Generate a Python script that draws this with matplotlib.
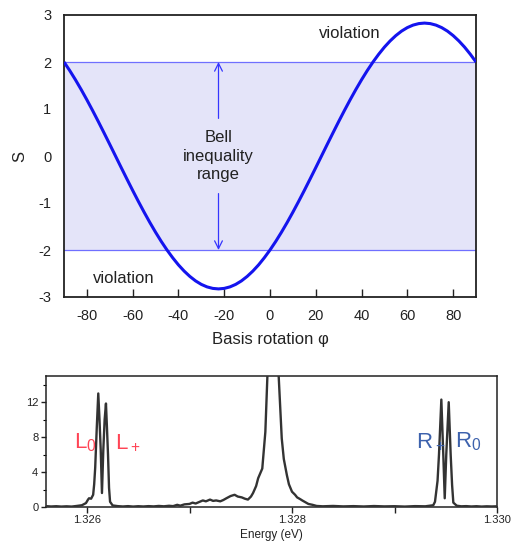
import numpy as np
import matplotlib
matplotlib.use("Agg")
import matplotlib.pyplot as plt

plt.rcParams['font.family'] = ['Liberation Sans', 'DejaVu Sans']
plt.rcParams['mathtext.fontset'] = 'custom'
plt.rcParams['mathtext.rm'] = 'Liberation Sans'
plt.rcParams['axes.unicode_minus'] = False

# ---------------- top panel data ----------------
phi = np.arange(-90, 90.01, 2.5)
S_values = [2.000, 1.818, 1.622, 1.414, 1.195, 0.967, 0.732, 0.491, 0.247, 0.0,
            -0.247, -0.491, -0.732, -0.967, -1.195, -1.414, -1.622, -1.818, -2.000,
            -2.166, -2.317, -2.449, -2.563, -2.658, -2.732, -2.785, -2.817, -2.828,
            -2.817, -2.785, -2.732, -2.658, -2.563, -2.449, -2.317, -2.166, -2.000,
            -1.818, -1.622, -1.414, -1.195, -0.967, -0.732, -0.491, -0.247, 0.0,
            0.247, 0.491, 0.732, 0.967, 1.195, 1.414, 1.622, 1.818, 2.000,
            2.166, 2.317, 2.449, 2.563, 2.658, 2.732, 2.785, 2.817, 2.828,
            2.817, 2.785, 2.732, 2.658, 2.563, 2.449, 2.317, 2.166, 2.000]
bell_bounds = [-2, 2]
top_xticks = [-80, -60, -40, -20, 0, 20, 40, 60, 80]
top_yticks = [-3, -2, -1, 0, 1, 2, 3]

# ---------------- bottom panel data ----------------
energy = [1.32560, 1.32565, 1.32570, 1.32575, 1.32580, 1.32585, 1.32590, 1.32595,
          1.32599, 1.32601, 1.32602, 1.32604, 1.32606, 1.32607, 1.32608, 1.326095,
          1.32611, 1.326122, 1.326134, 1.326146, 1.326159, 1.326172, 1.326185,
          1.326195, 1.326205, 1.326215, 1.326225, 1.32625, 1.32630, 1.32635,
          1.32640, 1.32645, 1.32650, 1.32655, 1.32660, 1.32665, 1.32670, 1.32675,
          1.32680, 1.32684, 1.32688, 1.32691, 1.32695, 1.32700, 1.32703, 1.32706,
          1.32710, 1.32713, 1.32716, 1.32720, 1.32723, 1.32726, 1.32730, 1.32733,
          1.32736, 1.32740, 1.32744, 1.32747, 1.32751, 1.32754, 1.32757, 1.32760,
          1.32762, 1.32765, 1.32767, 1.32771, 1.32774, 1.32776, 1.32782, 1.32787,
          1.32790, 1.32792, 1.32795, 1.32797, 1.32800, 1.32803, 1.32805, 1.32808,
          1.32810, 1.32813, 1.32816, 1.32820, 1.32824, 1.32830, 1.32840, 1.32850,
          1.32860, 1.32870, 1.32880, 1.32890, 1.32900, 1.32910, 1.32920, 1.32930,
          1.329378, 1.329395, 1.329420, 1.329434, 1.329457, 1.329476, 1.329490,
          1.329505, 1.329529, 1.329548, 1.329562, 1.329574, 1.329607, 1.32965,
          1.32970, 1.32975, 1.32980, 1.32985, 1.32990, 1.32995, 1.33000]
counts = [0.10, 0.06, 0.09, 0.05, 0.08, 0.05, 0.12, 0.20,
          0.45, 0.85, 1.00, 0.95, 1.40, 2.60, 4.50, 9.0,
          13.0, 10.0, 6.5, 1.6, 6.5, 10.0, 11.85,
          9.0, 6.0, 2.2, 0.6, 0.18, 0.10, 0.06,
          0.10, 0.05, 0.09, 0.06, 0.10, 0.07, 0.12, 0.08,
          0.14, 0.10, 0.25, 0.15, 0.30, 0.35, 0.50, 0.40,
          0.60, 0.75, 0.65, 0.85, 0.70, 0.75, 0.65, 0.80,
          1.00, 1.25, 1.40, 1.20, 1.10, 0.95, 0.85, 1.20,
          1.60, 2.40, 3.30, 4.40, 8.60, 15.0, 40.0, 15.0,
          7.85, 5.5, 3.65, 2.6, 1.75, 1.40, 1.10, 0.90,
          0.75, 0.55, 0.35, 0.25, 0.12, 0.08, 0.12, 0.07,
          0.10, 0.06, 0.11, 0.07, 0.09, 0.05, 0.10, 0.08,
          0.20, 0.60, 3.0, 6.0, 12.3, 6.0, 1.0,
          6.0, 12.0, 6.0, 2.5, 0.5, 0.15, 0.08,
          0.10, 0.06, 0.09, 0.05, 0.08, 0.06, 0.08]
bottom_xticks = [1.326, 1.328, 1.330]
bottom_xticklabels = ['1.326', '1.328', '1.330']
bottom_xminor = [1.327, 1.329]
bottom_yticks = [0, 4, 8, 12]
bottom_yminor = [2, 6, 10, 14]

W, H = 519, 545
fig = plt.figure(figsize=(W / 100, H / 100), dpi=100)

# ---------------- top panel ----------------
ax = fig.add_axes([64 / W, 1 - 297 / H, (476 - 64) / W, (297 - 15) / H])
ax.axhspan(bell_bounds[0], bell_bounds[1], color='#e4e4f9', lw=0, zorder=0)
for b in bell_bounds:
    ax.axhline(b, color='#6f6fff', lw=0.9, zorder=1)
ax.plot(phi, S_values, color='#1414ee', lw=2.2, zorder=3, solid_capstyle='butt')
ax.set_xlim(-90, 90)
ax.set_ylim(-3, 3)
ax.set_xticks(top_xticks)
ax.set_yticks(top_yticks)
ax.tick_params(axis='x', direction='in', length=6, width=1, pad=9, labelsize=10.5, colors='#222222')
ax.tick_params(axis='y', direction='in', length=0, pad=9, labelsize=10.5, colors='#222222')
for s in ax.spines.values():
    s.set_linewidth(1.3)
    s.set_color('#222222')
ax.set_xlabel('Basis rotation φ', fontsize=12, labelpad=6, color='#222222')
ax.set_ylabel('S', fontsize=12, labelpad=8, color='#222222')
ax.annotate('', xy=(-22.5, 2.0), xytext=(-22.5, 0.8),
            arrowprops=dict(arrowstyle='->', color='#3535ff', lw=0.9,
                            mutation_scale=14, shrinkA=0, shrinkB=0))
ax.annotate('', xy=(-22.5, -2.0), xytext=(-22.5, -0.8),
            arrowprops=dict(arrowstyle='->', color='#3535ff', lw=0.9,
                            mutation_scale=14, shrinkA=0, shrinkB=0))
ax.text(-22.5, 0.0, 'Bell\ninequality\nrange', ha='center', va='center',
        fontsize=12, linespacing=1.3, color='#222222')
ax.text(35, 2.6, 'violation', ha='center', va='center', fontsize=12, color='#222222')
ax.text(-64, -2.6, 'violation', ha='center', va='center', fontsize=12, color='#222222')

# ---------------- bottom panel ----------------
bx = fig.add_axes([46 / W, 1 - 507 / H, (497 - 46) / W, (507 - 376) / H])
bx.plot(energy, counts, color='#333333', lw=1.7, zorder=3)
bx.set_xlim(1.3256, 1.3300)
bx.set_ylim(0, 15)
bx.set_xticks(bottom_xticks)
bx.set_xticklabels(bottom_xticklabels)
bx.set_xticks(bottom_xminor, minor=True)
bx.set_yticks(bottom_yticks)
bx.set_yticks(bottom_yminor, minor=True)
bx.tick_params(axis='x', which='both', direction='out', length=4, width=1,
               pad=2, labelsize=8, colors='#222222')
bx.tick_params(axis='y', which='major', direction='out', length=3.5, width=1,
               pad=2, labelsize=8, colors='#222222')
bx.tick_params(axis='y', which='minor', direction='out', length=2, width=0.8)
for s in bx.spines.values():
    s.set_linewidth(1.1)
    s.set_color('#222222')
fig.text(271 / W, 1 - 535 / H, 'Energy (eV)', ha='center', va='center',
         fontsize=8.5, color='#222222')

red = '#ff4455'
blue = '#3d62ad'
bx.text(1.325873, 6.74, r'$\mathregular{L_0}$', ha='left', va='baseline', fontsize=16, color=red)
bx.text(1.326273, 6.74, r'$\mathregular{L_+}$', ha='left', va='baseline', fontsize=16, color=red)
bx.text(1.329207, 6.8, r'$\mathregular{R_+}$', ha='left', va='baseline', fontsize=16, color=blue)
bx.text(1.329587, 6.8, r'$\mathregular{R_0}$', ha='left', va='baseline', fontsize=16, color=blue)

fig.savefig('out.png', dpi=100)
